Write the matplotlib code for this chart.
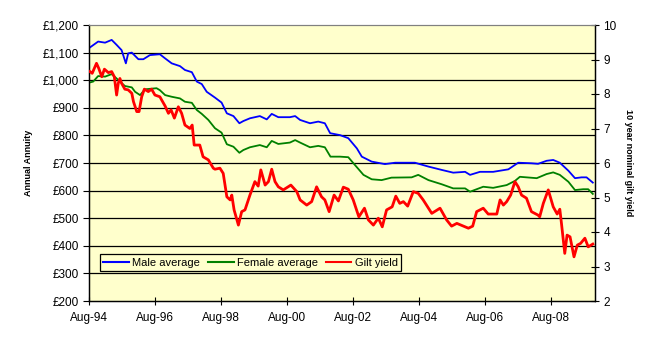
import matplotlib
matplotlib.use("Agg")
import matplotlib.pyplot as plt
from matplotlib.ticker import FuncFormatter

plt.rcParams['font.family'] = ['Liberation Sans', 'DejaVu Sans']

# decimal years
male_t = [1994.58, 1994.86, 1995.07, 1995.27, 1995.42, 1995.57, 1995.70, 1995.77, 1995.88,
          1996.08, 1996.23, 1996.43, 1996.73, 1996.89, 1997.09, 1997.34, 1997.49, 1997.70,
          1997.85, 1998.00, 1998.15, 1998.40, 1998.60, 1998.76, 1998.96, 1999.14, 1999.26,
          1999.46, 1999.76, 1999.97, 2000.12, 2000.32, 2000.67, 2000.83, 2000.98, 2001.28,
          2001.53, 2001.73, 2001.89, 2002.19, 2002.44, 2002.70, 2002.85, 2003.15, 2003.55,
          2003.86, 2004.46, 2004.87, 2005.27, 2005.62, 2005.98, 2006.13, 2006.43, 2006.83,
          2007.29, 2007.59, 2007.99, 2008.19, 2008.45, 2008.65, 2008.85, 2009.11, 2009.31,
          2009.51, 2009.66, 2009.85]
male = [1116, 1140, 1136, 1146, 1128, 1109, 1061, 1097, 1100,
        1076, 1076, 1091, 1094, 1079, 1061, 1051, 1037, 1029,
        995, 986, 958, 937, 919, 880, 870, 844, 852,
        862, 870, 858, 878, 866, 866, 870, 856, 844,
        850, 844, 808, 801, 790, 753, 723, 705, 696,
        701, 701, 687, 675, 665, 668, 657, 668, 668,
        677, 701, 699, 697, 708, 711, 701, 672, 645,
        648, 648, 629]

female_t = [1994.58, 1994.71, 1994.86, 1995.07, 1995.27, 1995.47, 1995.67, 1995.88, 1995.98,
            1996.13, 1996.28, 1996.63, 1996.73, 1996.89, 1997.09, 1997.34, 1997.49, 1997.70,
            1997.85, 1998.00, 1998.20, 1998.40, 1998.60, 1998.76, 1998.96, 1999.14, 1999.26,
            1999.46, 1999.76, 1999.97, 2000.12, 2000.32, 2000.67, 2000.83, 2000.98, 2001.28,
            2001.53, 2001.73, 2001.90, 2002.19, 2002.44, 2002.64, 2002.90, 2003.15, 2003.45,
            2003.75, 2004.36, 2004.56, 2004.87, 2005.27, 2005.62, 2005.98, 2006.13, 2006.53,
            2006.83, 2007.24, 2007.49, 2007.64, 2008.15, 2008.45, 2008.65, 2008.85, 2009.11,
            2009.31, 2009.56, 2009.71, 2009.85]
female = [991, 995, 1015, 1013, 1022, 1001, 979, 974, 958,
          946, 967, 971, 964, 946, 940, 934, 922, 918,
          892, 878, 856, 826, 810, 768, 759, 737, 747,
          757, 765, 757, 780, 769, 774, 783, 774, 757,
          762, 757, 723, 723, 721, 693, 657, 641, 638,
          647, 648, 657, 638, 623, 608, 608, 596, 614,
          610, 620, 635, 650, 645, 660, 666, 657, 632,
          602, 605, 605, 588]

gilt_t = [1994.61, 1994.68, 1994.81, 1994.88, 1994.97, 1995.05, 1995.17, 1995.27, 1995.35,
          1995.42, 1995.47, 1995.52, 1995.57, 1995.67, 1995.77, 1995.88, 1995.93, 1996.03,
          1996.10, 1996.18, 1996.26, 1996.38, 1996.48, 1996.58, 1996.73, 1996.89, 1996.99,
          1997.07, 1997.17, 1997.29, 1997.39, 1997.49, 1997.64, 1997.71, 1997.77, 1997.94,
          1998.04, 1998.20, 1998.35, 1998.40, 1998.55, 1998.65, 1998.76, 1998.86, 1998.91,
          1998.98, 1999.11, 1999.21, 1999.31, 1999.46, 1999.61, 1999.71, 1999.79, 1999.92,
          2000.02, 2000.12, 2000.22, 2000.32, 2000.47, 2000.70, 2000.88, 2000.98, 2001.18,
          2001.33, 2001.48, 2001.63, 2001.73, 2001.86, 2002.01, 2002.14, 2002.29, 2002.44,
          2002.59, 2002.76, 2002.93, 2003.05, 2003.20, 2003.35, 2003.47, 2003.60, 2003.77,
          2003.88, 2004.00, 2004.11, 2004.24, 2004.41, 2004.56, 2004.71, 2004.97, 2005.22,
          2005.42, 2005.57, 2005.73, 2005.93, 2006.08, 2006.21, 2006.33, 2006.53, 2006.68,
          2006.94, 2007.04, 2007.14, 2007.24, 2007.36, 2007.49, 2007.59, 2007.69, 2007.84,
          2007.99, 2008.19, 2008.24, 2008.35, 2008.50, 2008.65, 2008.77, 2008.85, 2008.90,
          2009.00, 2009.07, 2009.16, 2009.28, 2009.38, 2009.48, 2009.61, 2009.71, 2009.85]
gilt = [8.65, 8.60, 8.89, 8.74, 8.50, 8.72, 8.62, 8.65, 8.50,
        7.97, 8.31, 8.45, 8.31, 8.14, 8.12, 8.02, 7.78, 7.49,
        7.49, 7.92, 8.14, 8.07, 8.14, 7.97, 7.92, 7.65, 7.44,
        7.54, 7.30, 7.63, 7.44, 7.10, 7.00, 7.10, 6.52, 6.52,
        6.18, 6.09, 5.85, 5.82, 5.85, 5.70, 5.02, 4.93, 5.07,
        4.64, 4.20, 4.59, 4.64, 5.07, 5.46, 5.33, 5.80, 5.36,
        5.46, 5.82, 5.46, 5.31, 5.22, 5.36, 5.17, 4.93, 4.78,
        4.88, 5.31, 5.02, 4.93, 4.59, 5.07, 4.90, 5.30, 5.24,
        4.93, 4.44, 4.69, 4.35, 4.20, 4.40, 4.15, 4.64, 4.73,
        5.04, 4.83, 4.88, 4.75, 5.17, 5.12, 4.93, 4.54, 4.69,
        4.35, 4.17, 4.25, 4.17, 4.11, 4.17, 4.59, 4.69, 4.52,
        4.52, 4.93, 4.78, 4.88, 5.07, 5.46, 5.31, 5.07, 4.98,
        4.59, 4.49, 4.44, 4.83, 5.22, 4.73, 4.52, 4.66, 4.25,
        3.38, 3.91, 3.86, 3.28, 3.62, 3.67, 3.82, 3.57, 3.65]

tick_years = [1994.583, 1996.583, 1998.583, 2000.583, 2002.583, 2004.583, 2006.583, 2008.583]
tick_labels = ['Aug-94', 'Aug-96', 'Aug-98', 'Aug-00', 'Aug-02', 'Aug-04', 'Aug-06', 'Aug-08']

fig = plt.figure(figsize=(6.5, 3.39), dpi=100)
ax = fig.add_axes([89 / 650, 38 / 339, 506 / 650, 276 / 339])
ax.set_facecolor('#FFFFCC')
ax2 = ax.twinx()

# left axis: annuity
ax.set_xlim(1994.583, 1994.583 + 506 / 33)
ax.set_ylim(200, 1200)
ax.set_yticks(range(200, 1201, 100))
ax.yaxis.set_major_formatter(FuncFormatter(lambda v, p: '£{:,.0f}'.format(v)))
for g in range(300, 1200, 100):
    ax.axhline(g, color='black', lw=0.9, zorder=1)

ax.set_xticks(tick_years)
ax.set_xticklabels(tick_labels)
ax.tick_params(axis='x', direction='inout', length=6, width=0.8, labelsize=8.5, pad=5)
ax.tick_params(axis='y', direction='out', length=4, width=0.8, labelsize=8.5, pad=3)
ax.set_ylabel('Annual Annuity', fontsize=6.5, fontweight='bold', labelpad=7)

l1, = ax.plot(male_t, male, color='#0000FF', lw=1.3, label='Male average', zorder=3)
l2, = ax.plot(female_t, female, color='#008000', lw=1.3, label='Female average', zorder=3)

# right axis: gilt yield
ax2.set_ylim(2, 10)
ax2.set_yticks(range(2, 11))
ax2.tick_params(axis='y', direction='inout', length=6, width=0.8, labelsize=8.5, pad=3)
ax2.set_ylabel('10 year nominal gilt yield', fontsize=6.5, fontweight='bold',
               rotation=270, labelpad=12)
l3, = ax2.plot(gilt_t, gilt, color='#FF0000', lw=2.0, label='Gilt yield', zorder=3)

for a in (ax, ax2):
    a.spines['top'].set_color('#808080')
    a.spines['top'].set_linestyle((0, (1, 1)))
    a.spines['top'].set_linewidth(0.8)
    for s in ('left', 'right', 'bottom'):
        a.spines[s].set_color('black')
        a.spines[s].set_linewidth(0.9)

leg = ax2.legend(handles=[l1, l2, l3], loc='lower left', bbox_to_anchor=(0.022, 0.109),
                 borderaxespad=0, ncol=3, fontsize=8, frameon=True, fancybox=False,
                 borderpad=0.3, handlelength=2.3, handletextpad=0.3, columnspacing=0.7)
leg.get_frame().set_edgecolor('black')
leg.get_frame().set_facecolor('#FFFFCC')
leg.get_frame().set_alpha(1)
leg.get_frame().set_linewidth(0.9)
for h in leg.get_lines():
    h.set_linewidth(1.5)

fig.savefig('out.png', dpi=100)
